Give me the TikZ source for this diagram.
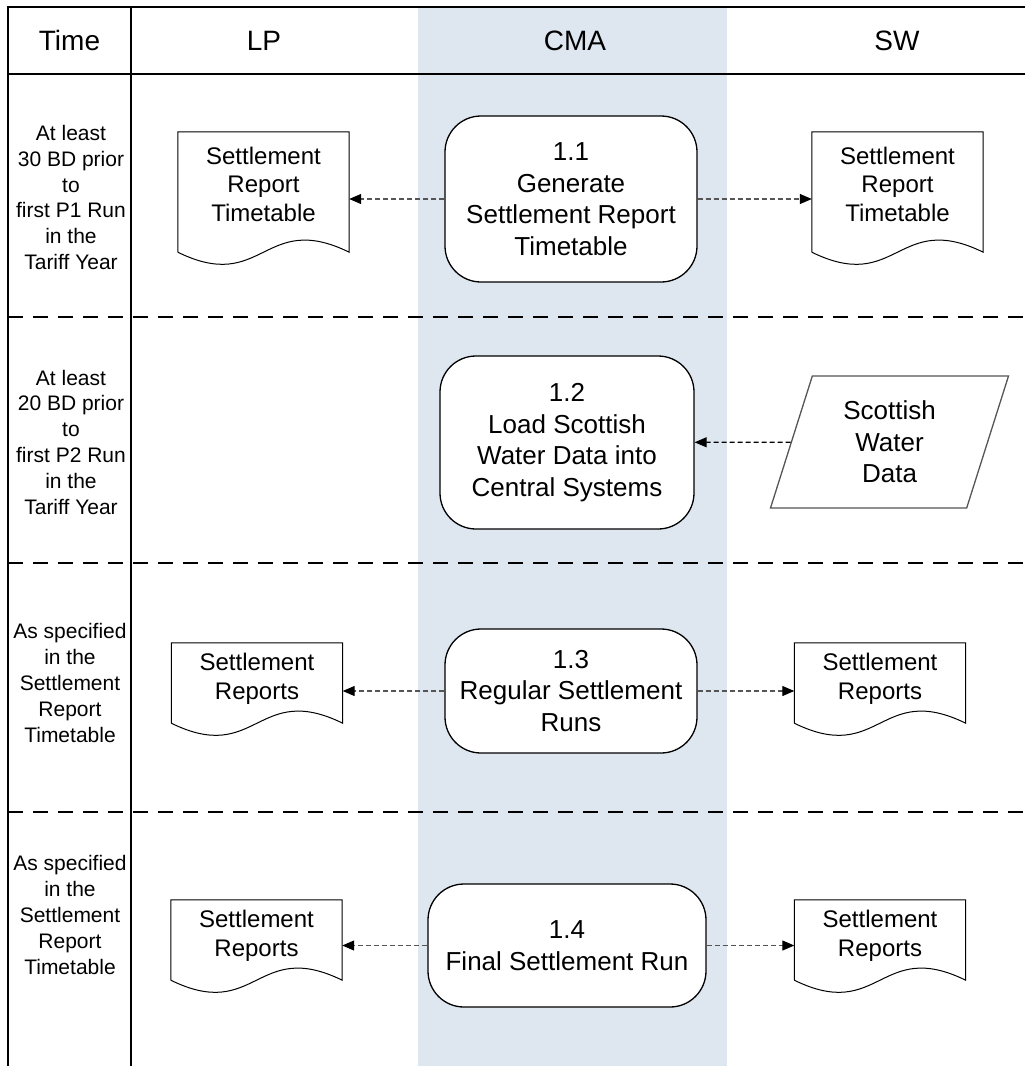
\documentclass[tikz,border=0pt]{standalone}
\usepackage{fontspec}
\setmainfont{Liberation Sans}
\usepackage{tikz}
\usetikzlibrary{shapes.geometric}
\usetikzlibrary{arrows.meta}
\usetikzlibrary{calc}
\definecolor{lanefill}{RGB}{222,230,240}
\definecolor{flowgray}{RGB}{85,85,85}
\tikzstyle{lane}=[font=\fontsize{28}{34}\selectfont]
\tikzstyle{when}=[align=center,inner sep=0pt,font=\fontsize{21}{25.8}\selectfont]
\tikzstyle{process}=[draw=black,fill=white,rounded corners=36pt,line width=1.3pt,align=center,inner sep=0pt,font=\fontsize{26}{31.5}\selectfont]
\tikzstyle{report}=[align=center,inner sep=0pt,minimum width=171pt,font=\fontsize{24}{28.5}\selectfont]
\tikzstyle{tallreport}=[report,minimum height=104pt]
\tikzstyle{shortreport}=[report,minimum height=72pt]
\tikzstyle{datain}=[trapezium,trapezium left angle=63,trapezium right angle=117,trapezium stretches body,draw=flowgray,line width=1.3pt,align=center,inner sep=0pt,minimum width=238pt,minimum height=132pt,font=\fontsize{26}{31.5}\selectfont]
\tikzstyle{flow}=[-{Triangle[length=12pt,width=10pt,black]},draw=flowgray,line width=1.2pt,dash pattern=on 5pt off 3pt]
\tikzstyle{frame}=[line width=2pt]
\tikzstyle{rowsep}=[line width=2pt,dash pattern=on 15pt off 10pt]
\tikzstyle{docline}=[draw=black,line width=1pt]
% document symbol round a node, #2 = drop of the wavy edge below the node
\newcommand{\drawreport}[2]{
  \draw[docline] ($(#1.south west)+(0,#2)$) -- (#1.north west) -- (#1.north east) -- ($(#1.south east)+(0,#2)$)
    .. controls ($(#1.south)+(0,#2-42)$) and ($(#1.south)+(0,#2+42)$) .. ($(#1.south west)+(0,#2)$);
}

\begin{document}
\begin{tikzpicture}[x=1pt,y=-1pt]
      \useasboundingbox (0,0) rectangle (1025,1066);
      \fill[lanefill] (418,7) rectangle (727,1066);
      % lanes and rows
      \draw[frame] (8,1066) -- (8,7) -- (1025,7);
      \draw[frame] (131,7) -- (131,1066);
      \draw[frame] (8,74) -- (1025,74);
      \foreach \y in {317,563,812}
        \draw[rowsep] (8,\y) -- (1025,\y);
      \node[lane] at (69.5,40.5) (hTime) {Time};
      \node[lane] at (264,40.5) (hLP) {LP};
      \node[lane] at (575,40.5) (hCMA) {CMA};
      \node[lane] at (897,40.5) (hSW) {SW};
      \node[when] at (71,197.5) (when1) {At least\\30 BD prior\\to\\first P1 Run\\in the\\Tariff Year};
      \node[when] at (71,442) (when2) {At least\\20 BD prior\\to\\first P2 Run\\in the\\Tariff Year};
      \node[when] at (70,683) (when3) {As specified\\in the\\Settlement\\Report\\Timetable};
      \node[when] at (70,915) (when4) {As specified\\in the\\Settlement\\Report\\Timetable};
      % processes
      \node[process,minimum width=252pt,minimum height=166pt] at (571,199) (p11) {1.1\\Generate\\Settlement Report\\Timetable};
      \node[process,minimum width=254pt,minimum height=173pt] at (567,442.5) (p12) {1.2\\Load Scottish\\Water Data into\\Central Systems};
      \node[process,minimum width=252pt,minimum height=124pt] at (571,691) (p13) {1.3\\Regular Settlement\\Runs};
      \node[process,minimum width=278pt,minimum height=123pt] at (567,945.5) (p14) {1.4\\Final Settlement Run};
      % reports and data
      \node[tallreport] at (263.5,184) (lprep1) {Settlement\\Report\\Timetable};
      \node[tallreport] at (897.5,184) (swrep1) {Settlement\\Report\\Timetable};
      \node[shortreport] at (257,679) (lprep3) {Settlement\\Reports};
      \node[shortreport] at (880,679) (swrep3) {Settlement\\Reports};
      \node[shortreport] at (256.5,936) (lprep4) {Settlement\\Reports};
      \node[shortreport] at (880,936) (swrep4) {Settlement\\Reports};
      \drawreport{lprep1}{16}
      \drawreport{swrep1}{16}
      \drawreport{lprep3}{8}
      \drawreport{swrep3}{8}
      \drawreport{lprep4}{8}
      \drawreport{swrep4}{8}
      \node[datain] at (889.5,442) (swdata) {Scottish\\Water\\Data};
      % flows
      \draw[flow] (p11.west) -- (p11.west -| lprep1.east);
      \draw[flow] (p11.east) -- (p11.east -| swrep1.west);
      \draw[flow,draw=black] (swdata) -- (p12);
      \draw[flow] (p13.west) -- (p13.west -| lprep3.east);
      \draw[flow] (p13.east) -- (p13.east -| swrep3.west);
      \draw[flow] (p14.west) -- (p14.west -| lprep4.east);
      \draw[flow] (p14.east) -- (p14.east -| swrep4.west);
\end{tikzpicture}
\end{document}
